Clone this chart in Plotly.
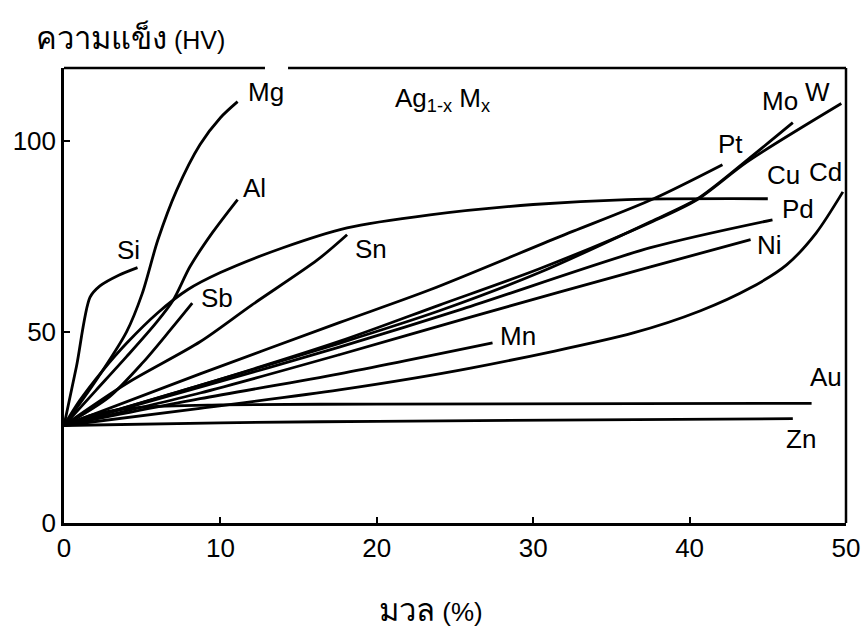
import plotly.graph_objects as go

# ---- data (x = solute content %, y = hardness HV) ----
si_x = [0, 0.8, 1.66, 2.3, 3.5, 4.7]
si_y = [25.5, 41, 59, 62, 64.8, 66.8]

mg_x = [0, 2, 4, 5, 6, 7.2, 8.7, 10, 11.1]
mg_y = [25.5, 37, 50, 60, 74, 87, 99, 106, 110.2]

al_x = [0, 2, 4, 5.9, 7, 8.05, 9.5, 11.1]
al_y = [25.5, 34.5, 43.5, 52.4, 58.4, 67, 76, 84.6]

sb_x = [0, 2.9, 5.05, 6.8, 8.2]
sb_y = [25.5, 33, 42, 50.5, 57.5]

sn_x = [0, 4, 8.7, 12, 16.2, 18.1]
sn_y = [25.5, 36.5, 47.4, 57, 68.8, 75.4]

cu_x = [0, 1, 2.5, 4, 6, 7.9, 10, 14, 18.1, 23.4, 30, 36, 45]
cu_y = [25.5, 32, 40, 47, 55, 61, 65.5, 72, 77.2, 80.6, 83.3, 84.6, 84.8]

pt_x = [0, 8.7, 17.6, 23.4, 31.7, 37.7, 42.1]
pt_y = [25.5, 39, 52.4, 61, 74.9, 84.8, 93.7]

mo_x = [0, 8.7, 17.6, 24, 30.4, 37.5, 40.5, 43.7, 46.6]
mo_y = [25.5, 36, 47, 55.5, 65.5, 78.8, 84.8, 95, 104.7]

w_x = [0, 8.7, 17.6, 24, 30.4, 37.5, 40.5, 43.7, 49.7]
w_y = [25.5, 36, 47.5, 57, 66.5, 78.6, 84.6, 94.5, 109.7]

pd_x = [0, 8.7, 17.6, 25.5, 37.5, 45.3]
pd_y = [25.5, 35.5, 46, 56, 72, 79.3]

ni_x = [0, 8.7, 17.6, 26.1, 37.5, 43.9]
ni_y = [25.5, 34, 44, 54, 67, 74.1]

mn_x = [0, 8.7, 17.6, 27.4]
mn_y = [25.5, 32.5, 39, 47.1]

cd_x = [0, 8.7, 17.6, 26, 36.4, 40.7, 43.9, 46.2, 48.1, 49.8]
cd_y = [25.5, 30, 34.8, 40.5, 49.7, 55.5, 61.5, 67.5, 75.9, 86.6]

au_x = [0, 2, 5, 10, 20, 47.8]
au_y = [25.5, 28.5, 30.3, 30.9, 31.1, 31.3]

zn_x = [0, 10, 20, 46.6]
zn_y = [25.5, 26.2, 26.6, 27.3]

x_ticks = [0, 10, 20, 30, 40, 50]
y_ticks = [0, 50, 100]

series = [
    ("Si", si_x, si_y), ("Mg", mg_x, mg_y), ("Al", al_x, al_y),
    ("Sb", sb_x, sb_y), ("Sn", sn_x, sn_y), ("Cu", cu_x, cu_y),
    ("Pt", pt_x, pt_y), ("Mo", mo_x, mo_y), ("W", w_x, w_y),
    ("Pd", pd_x, pd_y), ("Ni", ni_x, ni_y), ("Mn", mn_x, mn_y),
    ("Cd", cd_x, cd_y), ("Au", au_x, au_y), ("Zn", zn_x, zn_y),
]

# label positions (data coords)
labels = [
    ("Mg", 12.9, 112.6), ("Al", 12.2, 87.7), ("Si", 4.1, 71.5),
    ("Sb", 9.8, 58.9), ("Sn", 19.6, 71.7), ("Pt", 42.6, 99.0),
    ("Mo", 45.8, 110.5), ("W", 48.2, 112.6), ("Cu", 46.0, 91.1),
    ("Cd", 48.7, 91.9), ("Pd", 46.9, 82.2), ("Ni", 45.1, 72.8),
    ("Mn", 29.0, 49.0), ("Au", 48.7, 38.2), ("Zn", 47.1, 22.0),
]

FONT = "Liberation Sans, Arial, Helvetica, DejaVu Sans, sans-serif"

fig = go.Figure()
for name, xs, ys in series:
    fig.add_trace(go.Scatter(
        x=xs, y=ys, mode="lines", name=name,
        line=dict(color="black", width=2.8, shape="spline", smoothing=0.8),
        showlegend=False, hoverinfo="skip"))

for txt, lx, ly in labels:
    fig.add_annotation(x=lx, y=ly, xref="x", yref="y", text=txt,
                       showarrow=False, font=dict(size=26, color="black", family=FONT))

fig.add_annotation(x=24.2, y=110.7, xref="x", yref="y",
                   text="Ag<sub>1-x</sub> M<sub>x</sub>", showarrow=False,
                   font=dict(size=26, color="black", family=FONT))

# axis titles (paper coords)
fig.add_annotation(x=-0.0385, y=1.065, xref="paper", yref="paper",
                   text="<span style='font-size:31px'>ความแข็ง</span> (HV)",
                   showarrow=False, xanchor="left", yanchor="middle",
                   font=dict(size=25, color="black", family=FONT))
fig.add_annotation(x=0.469, y=-0.193, xref="paper", yref="paper",
                   text="<span style='font-size:31px'>มวล</span> (%)",
                   showarrow=False, xanchor="center", yanchor="middle",
                   font=dict(size=26, color="black", family=FONT))

# frame: right side and top (with small gap as in the original)
fig.add_shape(type="line", xref="x domain", yref="y domain", x0=1, x1=1, y0=0, y1=1,
              line=dict(color="black", width=2.5))
fig.add_shape(type="line", xref="x domain", yref="y domain", x0=0, x1=0.257, y0=1, y1=1,
              line=dict(color="black", width=2.5))
fig.add_shape(type="line", xref="x domain", yref="y domain", x0=0.2865, x1=1, y0=1, y1=1,
              line=dict(color="black", width=2.5))

fig.update_layout(
    width=862, height=628,
    margin=dict(l=64, r=16, t=68, b=105, autoexpand=False),
    paper_bgcolor="white", plot_bgcolor="white",
    font=dict(family=FONT, color="black"),
    xaxis=dict(range=[0, 50], tickvals=x_ticks, ticktext=[str(v) for v in x_ticks],
               showgrid=False, zeroline=False, showline=True, linecolor="black", linewidth=2.5,
               ticks="inside", ticklen=6, tickwidth=2, tickcolor="black",
               tickfont=dict(size=26, color="black", family=FONT)),
    yaxis=dict(range=[0, 119], tickvals=y_ticks, ticktext=[str(v) for v in y_ticks],
               showgrid=False, zeroline=False, showline=True, linecolor="black", linewidth=2.5,
               ticks="inside", ticklen=6, tickwidth=2, tickcolor="black",
               tickfont=dict(size=26, color="black", family=FONT)),
)

# remove the default page margin so the figure fills the window exactly
fig.write_html("out.html",
               config={"displayModeBar": False},
               post_script="document.body.style.margin='0';document.body.style.overflow='hidden';")
